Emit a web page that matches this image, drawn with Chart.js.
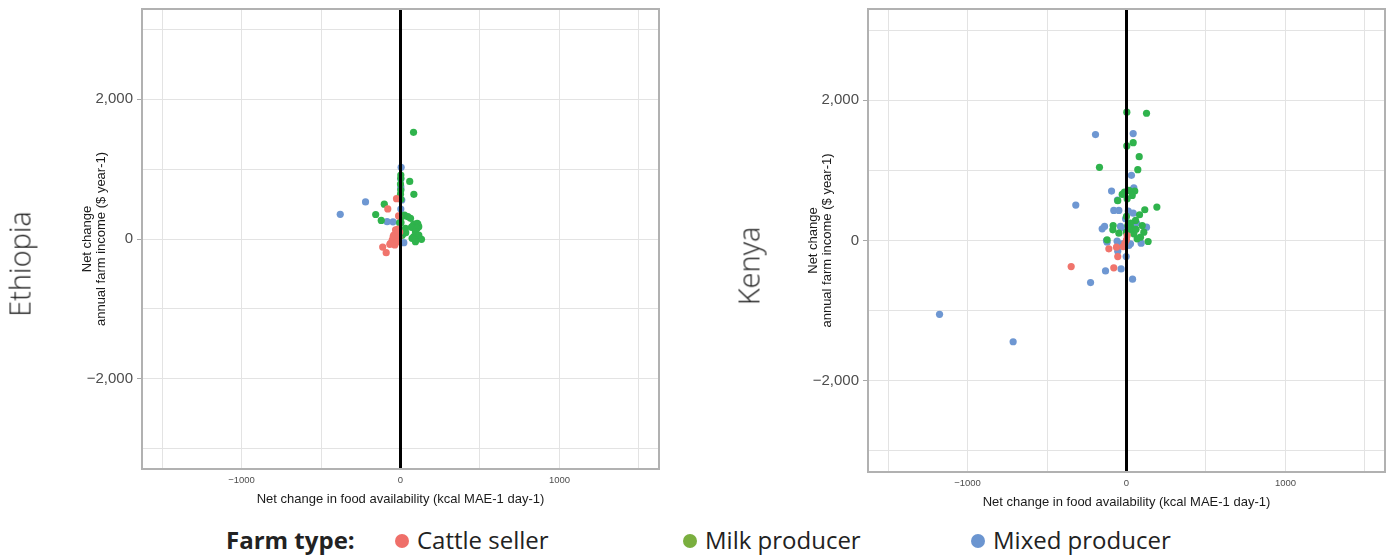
<!DOCTYPE html>
<html>
<head>
<meta charset="utf-8">
<script src="https://cdn.jsdelivr.net/npm/chart.js@4/dist/chart.umd.min.js"></script>
<style>
  html, body { margin: 0; padding: 0; background: #fff; }
  body { width: 1394px; height: 556px; position: relative; overflow: hidden; }
  canvas { position: absolute; top: 0; }
  .country {
    position: absolute; font-family: "Open Sans", sans-serif; font-weight: 300;
    font-size: 29px; color: #222; transform: translate(-50%, -50%) rotate(-90deg);
    white-space: nowrap;
  }
  .legend { position: absolute; top: 522px; height: 36px; font-family: "Open Sans", sans-serif;
    font-size: 24px; color: #222; white-space: nowrap; line-height: 36px; }
  .legend b { font-weight: 700; }
  .dot { display: inline-block; width: 14px; height: 14px; border-radius: 50%;
    vertical-align: middle; margin-right: 8px; position: relative; top: -2px; }
</style>
</head>
<body>
<canvas id="eth" width="690" height="515" style="left:0px"></canvas>
<canvas id="ken" width="668" height="518" style="left:726px"></canvas>
<div class="country" style="left:19px; top:264px;">Ethiopia</div>
<div class="country" style="left:748px; top:266px;">Kenya</div>

<div class="legend" style="left:226px;"><b>Farm type:</b></div>
<div class="legend" style="left:395px;"><span class="dot" style="background:#ef6f69"></span>Cattle seller</div>
<div class="legend" style="left:683px;"><span class="dot" style="background:#7aaf3f"></span>Milk producer</div>
<div class="legend" style="left:971px;"><span class="dot" style="background:#6b95d0"></span>Mixed producer</div>

<script>
// Farm-level outcomes: [net change in food availability (kcal MAE-1 day-1), net change in annual farm income ($ year-1)]
const ethiopiaCattle = [
  [-25, 576], [-80, 429], [-12, 330], [-15, 143], [-31, 129], [-27, 81], [-5, 100],
  [-42, 57], [-36, 24], [-21, 43], [-46, 33], [-10, 20], [-52, -14], [-52, -52],
  [-63, -62], [-67, -76], [-36, -86], [-20, -40], [-112, -115], [-90, -195]
];
const ethiopiaMilk = [
  [82, 1524], [2, 914], [2, 867], [0, 786], [58, 822], [84, 638], [2, 567], [-102, 497],
  [-156, 350], [-121, 266], [3, 319], [10, 320], [25, 343], [46, 319], [63, 295], [84, 214],
  [105, 224], [109, 214], [115, 176], [73, 176], [69, 167], [105, 152], [31, 152], [94, 105],
  [21, 81], [33, 90], [84, 33], [115, 57], [73, 10], [121, 10], [94, -14], [132, -5],
  [94, -38], [3, 233], [-6, 233], [0, 640], [2, 700], [-10, 140], [10, 50]
];
const ethiopiaMixed = [
  [4, 1024], [2, 857], [2, 714], [8, 557], [-220, 529], [2, 427], [-379, 352],
  [-84, 248], [-47, 245], [25, 100], [21, -52], [2, 747]
];

const kenyaCattle = [
  [4, 71], [0, 10], [-63, -95], [-21, -86], [-111, -119], [-55, -229], [-80, -390],
  [-348, -371], [-10, -40]
];
const kenyaMilk = [
  [2, 1829], [126, 1814], [42, 1395], [2, 1348], [80, 1195], [-170, 1043], [71, 1010],
  [52, 705], [15, 714], [-13, 690], [-27, 657], [36, 643], [4, 595], [-55, 567], [191, 476],
  [115, 438], [82, 367], [0, 343], [57, 286], [-84, 214], [-86, 152], [8, 214], [25, 248],
  [15, 152], [0, 119], [99, 214], [109, 119], [88, 48], [67, 24], [136, -14], [46, 95],
  [-48, 105], [-122, 10], [30, 180], [60, 160]
];
const kenyaMixed = [
  [-195, 1510], [42, 1524], [31, 929], [-94, 705], [46, 752], [-57, 576], [-319, 505],
  [-80, 429], [-48, 429], [11, 419], [42, 390], [-6, 310], [63, 248], [-153, 167],
  [-138, 200], [-38, 200], [-31, 181], [126, 190], [-126, 0], [-122, -24], [-59, -10],
  [-27, -48], [-55, -152], [-2, -229], [-132, -433], [-34, -405], [-226, -600], [38, -552],
  [92, -38], [25, -48], [15, -71], [-1176, -1052], [-713, -1443]
];

// Gridline positions and the subset that carries a label
const xGridValues = [-1500, -1000, -500, 0, 500, 1000, 1500];
const yGridValues = [-3000, -2000, -1000, 0, 1000, 2000, 3000];
const xTickLabels = [-1000, 0, 1000];
const yTickLabels = [-2000, 0, 2000];
const xTitle = 'Net change in food availability (kcal MAE-1 day-1)';
const yTitle = ['Net change', 'annual farm income ($ year-1)'];

const COLORS = { cattle: '#f0746c', milk: '#2fb34c', mixed: '#6e97d2' };
const GRID = '#e3e3e3';
const FONT = 'Liberation Sans, Arial, sans-serif';

Chart.defaults.font.family = FONT;

const minus = v => (v < 0 ? '\u2212' : '') + Math.abs(v);
const fmtY = v => (v < 0 ? '\u2212' : '') + Math.abs(v).toLocaleString('en-US');

const toPoints = arr => arr.map(([x, y]) => ({ x, y }));

const framePlugin = {
  id: 'frame',
  afterDraw(chart) {
    const { ctx, chartArea: a } = chart;
    ctx.save();
    ctx.strokeStyle = '#b1b1b1';
    ctx.lineWidth = 2;
    ctx.strokeRect(a.left, a.top, a.right - a.left, a.bottom - a.top);
    ctx.restore();
  }
};

function scatterSet(data, color) {
  return {
    type: 'scatter', data: toPoints(data), backgroundColor: color, borderColor: color,
    borderWidth: 0, pointRadius: 3.6, order: 1
  };
}

function makeChart(id, cattle, milk, mixed, yLim, rightPad) {
  const xLim = 1626;
  return new Chart(document.getElementById(id), {
    type: 'scatter',
    data: {
      datasets: [
        scatterSet(cattle, COLORS.cattle),
        scatterSet(milk, COLORS.milk),
        scatterSet(mixed, COLORS.mixed),
        {
          type: 'line', data: [{ x: 0, y: -yLim }, { x: 0, y: yLim }],
          borderColor: '#000', borderWidth: 3, pointRadius: 0, order: 0
        }
      ]
    },
    options: {
      responsive: false, animation: false, devicePixelRatio: 1,
      layout: { padding: { left: 0, right: rightPad, top: 9, bottom: 0 } },
      plugins: { legend: { display: false }, tooltip: { enabled: false } },
      scales: {
        x: {
          type: 'linear', min: -xLim, max: xLim,
          afterBuildTicks: s => { s.ticks = xGridValues.map(value => ({ value })); },
          ticks: {
            autoSkip: false, maxRotation: 0, padding: 6, color: '#4d4d4d', font: { size: 9.5 },
            callback: v => (xTickLabels.includes(v) ? minus(v) : '')
          },
          grid: { color: GRID, lineWidth: 1, drawTicks: false },
          border: { display: false },
          title: {
            display: true, text: xTitle, color: '#1a1a1a',
            font: { size: 13 }, padding: { top: 0, bottom: 8 }
          },
          afterFit: s => { s.height = 46; s.paddingLeft = 0; s.paddingRight = 0; }
        },
        y: {
          type: 'linear', min: -yLim, max: yLim,
          afterBuildTicks: s => { s.ticks = yGridValues.map(value => ({ value })); },
          ticks: {
            autoSkip: false, padding: 4, color: '#4d4d4d', font: { size: 15 },
            callback: v => (yTickLabels.includes(v) ? fmtY(v) : '')
          },
          grid: {
            color: GRID, lineWidth: 1, drawTicks: true, tickLength: 5, tickWidth: 1,
            tickColor: c => (c.tick && yTickLabels.includes(c.tick.value) ? '#a8a8a8' : 'rgba(0,0,0,0)')
          },
          border: { display: false },
          title: {
            display: true, text: yTitle, color: '#1a1a1a',
            font: { size: 13, lineHeight: 1.08 }, padding: { top: 80, bottom: 0 }
          },
          afterFit: s => { s.width = 142; s.paddingTop = 0; s.paddingBottom = 0; }
        }
      }
    },
    plugins: [framePlugin]
  });
}

makeChart('eth', ethiopiaCattle, ethiopiaMilk, ethiopiaMixed, 3286, 31);
makeChart('ken', kenyaCattle, kenyaMilk, kenyaMixed, 3300, 9);
</script>
</body>
</html>
